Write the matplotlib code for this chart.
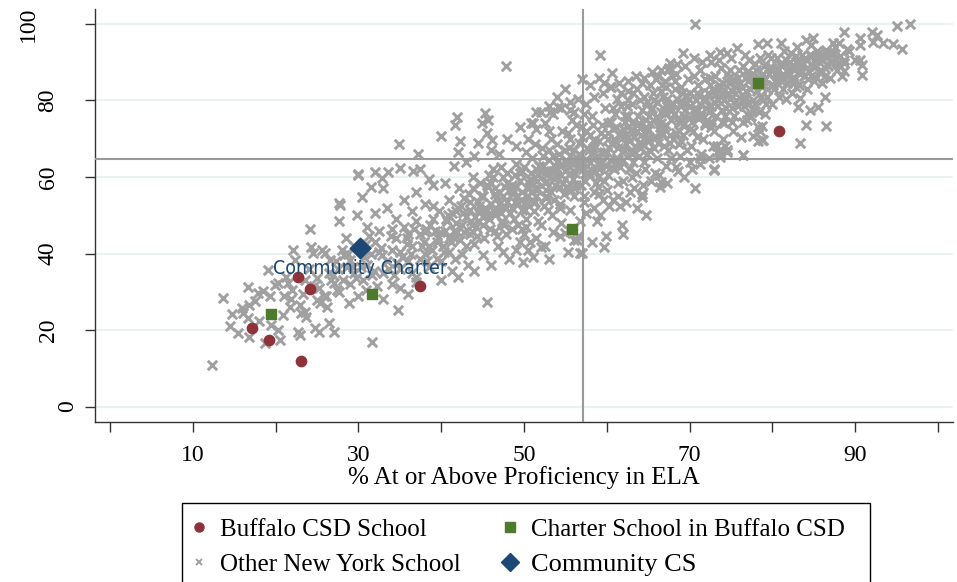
import matplotlib
matplotlib.use('Agg')
import matplotlib.pyplot as plt
from matplotlib.lines import Line2D
from matplotlib.patches import Rectangle
from matplotlib.transforms import ScaledTranslation

plt.rcParams['font.family'] = 'Liberation Serif'

# Buffalo district schools, charters in Buffalo, and the highlighted school
buffalo_ela = [17.2, 19.2, 23.1, 22.7, 24.2, 37.4, 80.8]
buffalo_math = [20.5, 17.4, 11.9, 33.8, 30.8, 31.4, 72.1]
charter_ela = [19.5, 31.6, 55.8, 78.3]
charter_math = [24.2, 29.5, 46.4, 84.5]
community_ela = [30.2]
community_math = [41.5]
community_label = 'Community Charter'

# statewide averages (reference lines)
state_ela_avg = 57.1
state_math_avg = 64.7

# other New York schools (approximate)
other_ela = [
    12.3, 13.7, 14.7, 15.9, 16.1, 16.8, 16.7, 15.5, 16.8, 16.7,
    17.9, 18.5, 19.3, 18.7, 19.1, 19.9, 20.3, 19.5, 20.3, 20.5,
    20.9, 21.7, 21.5, 21.3, 22.1, 22.4, 22.9, 23.1, 22.9, 22.7,
    23.6, 23.7, 24.3, 24.5, 24.2, 24.8, 25.2, 25.0, 25.4, 25.8,
    26.2, 26.4, 25.6, 26.0, 26.6, 27.0, 27.6, 27.8, 27.0, 27.4,
    28.2, 28.6, 29.0, 29.8, 30.4, 30.0, 31.6, 32.0, 32.8, 33.6,
    34.8, 45.5, 14.5, 17.5, 18.0, 21.0, 22.0, 23.5, 24.0, 25.0,
    26.5, 27.5, 28.0, 28.5, 29.0, 29.5, 30.0, 30.5, 31.0, 31.5,
    32.0, 32.5, 33.0, 33.5, 34.0, 34.5, 35.0, 35.5, 36.0, 36.5,
    33.0, 34.0, 35.0, 36.0, 37.0, 37.5, 38.0, 38.5, 39.0, 39.5,
    29.5, 31.0, 32.0, 33.5, 34.5, 35.5, 36.5, 37.0, 38.0, 39.0,
    40.0, 40.2, 40.5, 40.8, 41.0, 41.3, 41.5, 41.8, 42.0, 42.2,
    42.5, 42.8, 43.0, 43.2, 43.5, 43.8, 44.0, 44.2, 44.5, 44.8,
    45.0, 45.2, 45.5, 45.8, 46.0, 46.2, 46.5, 46.8, 47.0, 47.2,
    47.5, 47.8, 48.0, 48.2, 48.5, 48.8, 49.0, 49.2, 49.5, 49.8,
    40.5, 41.5, 42.0, 43.0, 44.0, 44.5, 46.0, 47.0, 48.0, 49.0,
    40.0, 42.0, 44.0, 46.0, 47.5, 49.0, 43.5, 45.5, 47.8, 49.5,
    41.0, 43.0, 45.0, 46.5, 48.5, 41.8, 43.8, 45.8, 47.2, 49.8,
    34.9, 37.2, 40.0, 41.9, 41.7, 45.3, 44.9, 45.7, 42.3, 45.5,
    46.1, 29.9, 27.6, 47.8, 36.6, 37.5, 38.5, 33.0, 31.5, 35.0,
    50.0, 50.2, 50.4, 50.6, 50.8, 51.0, 51.2, 51.4, 51.6, 51.8,
    52.0, 52.2, 52.4, 52.6, 52.8, 53.0, 53.2, 53.4, 53.6, 53.8,
    54.0, 54.2, 54.4, 54.6, 54.8, 55.0, 55.2, 55.4, 55.6, 55.8,
    56.0, 56.2, 56.4, 56.6, 56.8, 57.0, 57.2, 57.4, 57.6, 57.8,
    58.0, 58.2, 58.4, 58.6, 58.8, 59.0, 59.2, 59.4, 59.6, 59.8,
    50.5, 51.5, 52.5, 53.5, 54.5, 55.5, 56.5, 57.5, 58.5, 59.5,
    50.5, 51.5, 52.5, 53.5, 54.5, 55.5, 56.5, 57.5, 58.5, 59.5,
    50.3, 51.3, 52.3, 53.3, 54.3, 55.3, 56.3, 57.3, 58.3, 59.3,
    50.8, 52.0, 53.0, 49.5, 54.0, 55.0, 56.0, 58.0, 59.0, 57.0,
    51.5, 53.1, 54.1, 55.6, 51.1, 55.0, 56.0, 56.4, 55.3, 56.8,
    58.2, 59.6, 59.9, 61.8, 62.0, 58.8, 60.7, 61.6, 63.6, 64.2,
    64.7, 66.4, 66.6, 70.7, 72.9, 73.7, 74.5, 76.5, 51.1, 49.9,
    52.1, 50.7, 57.0, 53.0, 56.0, 54.0, 53.0, 55.5, 57.5, 59.5,
    60.0, 60.2, 60.4, 60.6, 60.8, 61.0, 61.2, 61.4, 61.6, 61.8,
    62.0, 62.2, 62.4, 62.6, 62.8, 63.0, 63.2, 63.4, 63.6, 63.8,
    64.0, 64.2, 64.4, 64.6, 64.8, 65.0, 65.2, 65.4, 65.6, 65.8,
    66.0, 66.2, 66.4, 66.6, 66.8, 67.0, 67.2, 67.4, 67.6, 67.8,
    68.0, 68.2, 68.4, 68.6, 68.8, 69.0, 69.2, 69.4, 69.6, 69.8,
    60.5, 61.5, 62.5, 63.5, 64.5, 65.5, 66.5, 67.5, 68.5, 69.5,
    60.3, 61.3, 62.3, 63.3, 64.3, 65.3, 66.3, 67.3, 68.3, 69.3,
    60.1, 61.1, 62.1, 63.1, 64.1, 65.1, 66.1, 67.1, 68.1, 69.1,
    60.7, 61.7, 62.7, 63.7, 64.7, 65.7, 66.7, 67.7, 68.7, 69.7,
    60.9, 61.9, 62.9, 63.9, 64.9, 65.9, 66.9, 67.9, 68.9, 69.9,
    70.0, 70.2, 70.4, 70.6, 70.8, 71.0, 71.2, 71.4, 71.6, 71.8,
    72.0, 72.2, 72.4, 72.6, 72.8, 73.0, 73.2, 73.4, 73.6, 73.8,
    74.0, 74.2, 74.4, 74.6, 74.8, 75.0, 75.2, 75.4, 75.6, 75.8,
    76.0, 76.2, 76.4, 76.6, 76.8, 77.0, 77.2, 77.4, 77.6, 77.8,
    78.0, 78.2, 78.4, 78.6, 78.8, 79.0, 79.2, 79.4, 79.6, 79.8,
    70.5, 71.5, 72.5, 73.5, 74.5, 70.3, 71.3, 72.3, 73.3, 74.3,
    70.1, 71.1, 72.1, 73.1, 74.1, 75.1, 76.1, 77.1, 78.1, 79.1,
    70.9, 71.9, 72.9, 73.9, 74.9, 75.9, 76.9, 77.9, 78.9, 79.9,
    80.0, 80.2, 80.4, 80.6, 80.8, 81.0, 81.2, 81.4, 81.6, 81.8,
    82.0, 82.2, 82.4, 82.6, 82.8, 83.0, 83.2, 83.4, 83.6, 83.8,
    84.0, 84.2, 84.4, 84.6, 84.8, 85.0, 85.2, 85.4, 85.6, 85.8,
    86.0, 86.3, 86.6, 86.9, 87.2, 87.5, 87.8, 88.1, 88.4, 89.0,
    78.7, 77.7, 78.3, 78.9, 83.3, 84.1, 86.5, 83.1, 84.5, 85.5,
    86.4, 83.3, 76.9, 77.3, 73.3, 73.7, 74.5, 73.7, 76.5, 72.9,
    71.3, 90.8, 90.8, 95.7, 94.6, 93.4, 92.2, 95.0, 96.6, 92.0,
    92.6, 88.7, 90.6, 90.6, 90.0, 90.6, 89.2, 88.6, 88.2, 88.7,
    88.0, 87.3, 84.1, 84.9, 86.5, 78.3, 79.3, 75.7, 76.7, 73.7,
    69.2, 67.6, 67.4, 70.7, 59.2, 60.6, 59.6, 60.4, 78.5, 78.7,
    80.5, 81.3, 82.1, 82.9, 83.7, 84.5, 85.3, 86.1, 79.5, 81.0,
    45.0, 46.0, 47.0, 48.0, 49.0, 50.0, 51.0, 52.0, 53.0, 54.0,
    55.0, 56.0, 57.0, 58.0, 59.0, 60.0, 61.0, 62.0, 63.0, 64.0,
    65.0, 66.0, 67.0, 68.0, 69.0, 70.0, 71.0, 72.0, 73.0, 74.0,
    44.5, 46.5, 48.5, 50.5, 52.5, 54.5, 56.5, 58.5, 60.5, 62.5,
    64.5, 66.5, 68.5, 70.5, 72.5, 74.5, 76.5, 78.5, 75.5, 77.5,
    42.5, 43.5, 44.5, 46.5, 47.5, 49.5, 51.5, 53.5, 55.5, 57.5,
    36.0, 37.0, 38.0, 39.0, 39.5, 38.5, 37.5, 36.5, 35.0, 34.0,
    40.7, 41.9, 43.3, 44.1, 45.3, 46.7, 47.9, 48.6, 49.3, 50.1,
    50.9, 51.7, 52.7, 53.9, 54.7, 55.1, 55.9, 56.7, 57.1, 57.9,
    58.1, 58.7, 59.3, 59.9, 60.3, 60.9, 61.3, 61.9, 62.3, 62.9,
    63.3, 63.9, 64.3, 64.9, 65.3, 65.9, 66.3, 66.9, 67.3, 67.9,
    68.3, 68.9, 69.3, 69.9, 70.3, 70.9, 71.3, 71.9, 72.3, 72.9,
    73.3, 73.9, 74.3, 74.9, 75.3, 75.9, 76.3, 76.9, 77.3, 77.9,
    78.3, 78.9, 79.3, 79.9, 80.3, 80.9, 81.3, 81.9, 82.3, 82.9,
    83.3, 83.9, 84.3, 84.9, 85.3, 85.9, 86.3, 86.9, 87.3, 87.9,
    30.7, 31.9, 32.7, 33.9, 34.7, 35.9, 36.7, 37.9, 38.7, 39.9,
    45.7, 47.3, 48.7, 49.7, 51.3, 52.9, 54.3, 55.7, 56.9, 58.9,
    59.1, 60.5, 61.7, 62.5, 63.5, 64.5, 65.7, 66.7, 67.7, 68.7,
    60.2, 61.2, 62.2, 63.2, 64.2, 65.2, 66.2, 67.2, 68.2, 69.2,
    25.3, 26.1, 26.9, 27.7, 28.3, 28.9, 29.7, 30.3, 30.9, 31.7,
    32.3, 32.9, 33.7, 34.3, 35.3, 35.9, 36.3, 36.9, 37.7, 38.3,
    38.9, 39.3, 39.7, 40.3, 40.9, 41.3, 41.7, 42.3, 42.7, 43.7,
    44.3, 44.7, 45.3, 45.9, 46.3, 46.9, 47.3, 47.7, 48.3, 48.9,
    49.3, 49.7, 50.3, 50.7, 51.1, 51.7, 52.3, 52.7, 53.3, 53.7,
    54.3, 54.9, 55.3, 55.9, 56.3, 56.9, 57.3, 57.9, 58.3, 58.9,
    61.1, 62.7, 63.1, 64.7, 65.1, 66.7, 67.1, 68.7, 69.1, 70.7,
    71.1, 72.7, 73.1, 74.7, 75.1, 76.7, 77.1, 78.7, 79.1, 80.7,
    81.1, 82.7, 83.1, 84.7, 85.1, 86.7, 87.1, 88.7, 80.1, 82.5,
    21.9, 23.3, 24.7, 26.7, 27.3, 28.7, 29.3, 30.9, 31.3, 32.5,
    38.2, 39.6, 40.6, 41.6, 42.6, 43.6, 44.6, 45.6, 46.6, 47.6,
    48.6, 49.6, 50.6, 51.6, 52.6, 53.6, 54.6, 55.6, 56.6, 57.6,
    58.6, 59.6, 60.6, 61.6, 62.6, 63.6, 64.6, 65.6, 66.6, 67.6,
    68.6, 69.6, 70.6, 71.6, 72.6, 73.6, 74.6, 75.6, 76.6, 77.6,
    78.6, 79.6, 80.6, 81.6, 82.6, 83.6, 84.6, 85.6, 86.6, 87.6,
    41.2, 42.4, 43.9, 45.1, 46.4, 47.6, 48.9, 50.1, 51.4, 52.6,
    53.9, 55.1, 56.4, 57.6, 58.9, 60.1, 61.4, 62.6, 63.9, 65.1,
    66.4, 67.6, 68.9, 70.1, 71.4, 72.6, 73.9, 75.1, 76.4, 77.6,
]
other_math = [
    10.9, 28.3, 24.1, 25.7, 24.4, 26.6, 23.1, 19.2, 18.3, 31.2,
    29.6, 30.1, 28.8, 16.6, 35.7, 31.8, 32.2, 21.4, 20.0, 17.4,
    24.0, 26.1, 32.3, 34.0, 41.0, 38.4, 26.6, 24.4, 18.7, 19.6,
    24.8, 23.5, 41.8, 40.1, 46.4, 20.5, 19.6, 27.9, 27.0, 28.8,
    26.1, 21.8, 41.0, 40.1, 38.4, 19.6, 48.4, 52.7, 32.3, 30.5,
    33.1, 36.6, 38.4, 50.1, 54.9, 60.6, 17.0, 61.4, 59.7, 61.4,
    25.3, 27.4, 21.0, 27.5, 22.5, 29.0, 30.5, 33.0, 36.0, 33.5,
    35.0, 36.0, 41.0, 44.0, 32.0, 35.0, 29.0, 33.0, 37.0, 40.0,
    43.0, 46.0, 35.0, 38.0, 41.0, 44.0, 31.0, 47.0, 38.0, 42.0,
    28.0, 32.0, 36.0, 29.5, 34.0, 45.0, 40.0, 36.5, 49.0, 43.0,
    42.0, 47.0, 50.5, 52.0, 49.0, 54.0, 51.0, 56.0, 53.0, 58.0,
    38.0, 42.0, 46.0, 50.0, 54.0, 35.5, 44.0, 48.0, 52.0, 57.0,
    40.0, 45.5, 49.5, 37.0, 53.5, 60.0, 42.5, 47.0, 51.0, 55.0,
    39.5, 44.0, 58.0, 49.0, 53.0, 62.0, 46.0, 42.0, 56.0, 50.5,
    60.0, 45.0, 53.5, 38.5, 58.0, 49.0, 63.5, 55.0, 43.0, 51.5,
    58.5, 63.0, 66.5, 64.0, 65.5, 69.0, 67.0, 66.0, 70.0, 68.0,
    33.0, 34.0, 35.5, 37.0, 40.5, 41.0, 45.0, 51.5, 52.0, 59.0,
    40.5, 42.0, 47.5, 55.5, 46.5, 51.0, 57.0, 60.5, 62.5, 61.5,
    68.7, 66.0, 70.8, 75.6, 73.6, 76.8, 74.2, 74.9, 69.3, 71.5,
    69.7, 60.7, 53.2, 89.1, 61.7, 62.0, 59.5, 57.0, 57.5, 62.4,
    45.0, 49.0, 53.0, 57.0, 61.0, 65.0, 51.0, 55.0, 59.0, 63.0,
    47.5, 67.5, 52.5, 56.5, 60.5, 64.5, 70.0, 50.0, 54.0, 58.0,
    62.0, 66.0, 44.5, 72.0, 55.5, 59.5, 63.5, 67.5, 51.5, 75.0,
    57.0, 61.0, 65.0, 69.0, 48.5, 73.0, 53.5, 59.0, 63.0, 67.0,
    71.0, 76.0, 56.0, 61.5, 65.5, 69.5, 50.0, 73.5, 59.0, 78.0,
    70.0, 72.5, 74.0, 76.5, 78.0, 79.5, 80.5, 79.0, 81.0, 82.0,
    41.0, 44.0, 42.0, 45.5, 48.0, 46.0, 44.5, 50.5, 52.0, 54.0,
    66.5, 68.5, 63.0, 61.5, 57.5, 71.5, 73.5, 76.5, 67.5, 63.5,
    74.0, 77.0, 78.5, 73.0, 81.0, 83.0, 77.0, 84.0, 86.0, 85.5,
    77.1, 77.1, 78.4, 77.5, 74.1, 45.3, 43.6, 43.6, 40.5, 40.1,
    43.1, 41.8, 44.6, 47.5, 45.1, 48.4, 53.9, 52.3, 51.9, 54.9,
    50.1, 57.5, 58.8, 57.1, 62.0, 67.1, 66.6, 65.8, 39.2, 37.9,
    41.8, 43.1, 40.2, 38.5, 55.0, 68.5, 72.0, 70.0, 61.0, 66.0,
    56.5, 60.5, 64.5, 68.5, 72.5, 76.5, 80.5, 58.5, 62.5, 66.5,
    70.5, 74.5, 78.5, 82.5, 56.0, 60.0, 64.0, 68.0, 72.0, 76.0,
    80.0, 84.5, 58.0, 62.0, 66.0, 70.0, 74.0, 78.0, 82.0, 61.0,
    65.0, 69.0, 73.0, 77.0, 81.0, 85.0, 63.0, 67.0, 71.0, 75.0,
    79.0, 83.0, 87.0, 61.5, 65.5, 69.5, 73.5, 77.5, 81.5, 85.5,
    83.5, 84.5, 85.0, 86.5, 86.0, 87.5, 88.0, 88.5, 89.5, 89.0,
    52.5, 55.0, 53.5, 57.0, 55.5, 59.0, 60.5, 58.5, 62.5, 60.0,
    70.0, 73.0, 67.0, 79.0, 71.0, 76.0, 79.5, 73.5, 76.5, 79.5,
    78.0, 82.0, 62.0, 83.0, 75.0, 67.5, 84.0, 79.0, 72.0, 67.0,
    62.0, 59.0, 72.5, 65.5, 79.5, 85.5, 68.0, 86.5, 83.5, 75.5,
    64.0, 68.0, 72.0, 76.0, 80.0, 84.0, 88.0, 66.0, 70.0, 74.0,
    78.0, 82.0, 86.0, 90.0, 68.0, 72.0, 76.0, 80.0, 84.0, 88.5,
    70.0, 74.0, 78.0, 82.0, 86.0, 91.0, 72.0, 76.0, 80.0, 84.0,
    88.0, 70.5, 74.5, 78.5, 82.5, 86.5, 90.5, 76.0, 80.0, 84.0,
    88.0, 73.0, 77.0, 81.0, 85.0, 89.0, 79.0, 83.0, 87.0, 91.0,
    91.0, 90.0, 92.0, 90.5, 92.5, 62.0, 63.5, 65.0, 66.5, 68.0,
    78.5, 81.5, 75.0, 86.5, 80.0, 78.0, 84.5, 79.5, 82.5, 85.5,
    70.5, 85.5, 79.5, 74.5, 88.0, 86.0, 76.5, 89.5, 80.0, 84.0,
    79.0, 83.0, 87.0, 91.0, 81.0, 85.0, 89.0, 93.0, 80.5, 84.5,
    88.5, 92.5, 82.0, 86.0, 90.0, 94.0, 84.0, 88.0, 92.0, 86.5,
    90.5, 83.0, 87.5, 94.5, 91.5, 85.0, 89.0, 93.0, 87.5, 91.0,
    84.5, 88.5, 92.5, 86.0, 90.0, 94.0, 88.0, 91.5, 86.5, 93.5,
    73.2, 70.6, 69.3, 69.7, 68.8, 73.6, 73.4, 78.4, 77.5, 78.4,
    80.9, 80.6, 74.9, 75.8, 68.0, 66.2, 67.1, 65.3, 65.8, 61.9,
    65.0, 86.7, 89.3, 93.5, 94.7, 95.1, 95.4, 99.5, 100.0, 98.0,
    97.2, 98.0, 96.3, 94.5, 90.6, 90.6, 92.8, 87.6, 88.9, 89.8,
    95.0, 95.0, 95.8, 96.3, 93.2, 94.7, 95.1, 93.6, 91.9, 92.7,
    92.4, 89.8, 88.0, 100.0, 91.9, 87.1, 84.5, 83.6, 71.9, 69.7,
    85.5, 87.0, 90.0, 83.5, 89.5, 92.0, 86.0, 90.5, 92.0, 95.0,
    55.0, 58.5, 53.0, 61.0, 57.5, 62.5, 58.0, 61.5, 67.0, 64.0,
    61.5, 67.0, 70.5, 64.0, 62.0, 66.5, 69.5, 64.5, 74.0, 67.5,
    72.5, 75.5, 77.0, 70.0, 74.5, 82.0, 77.5, 80.5, 83.0, 84.5,
    48.5, 50.0, 52.0, 55.0, 58.5, 60.5, 62.5, 69.5, 74.5, 76.0,
    81.0, 82.5, 80.5, 86.5, 84.0, 87.0, 89.0, 91.0, 82.0, 86.0,
    47.5, 51.5, 53.5, 57.0, 55.0, 61.0, 62.0, 65.5, 65.5, 72.0,
    45.0, 48.5, 45.5, 52.5, 38.5, 42.0, 38.5, 35.0, 40.5, 46.5,
    48.5, 45.5, 55.5, 49.5, 52.0, 44.5, 58.5, 55.5, 47.5, 53.5,
    56.0, 60.5, 55.0, 62.5, 58.5, 64.5, 59.5, 66.0, 62.0, 60.5,
    66.0, 58.5, 71.5, 63.0, 67.5, 70.0, 64.5, 72.5, 68.5, 66.5,
    70.5, 74.0, 68.5, 72.0, 77.5, 70.5, 75.0, 73.0, 80.5, 77.5,
    71.5, 78.5, 76.0, 80.5, 74.5, 82.0, 79.0, 73.5, 77.0, 82.5,
    78.5, 82.0, 76.0, 80.5, 85.5, 78.5, 81.5, 87.5, 83.0, 79.0,
    84.5, 87.0, 81.0, 88.5, 85.0, 89.5, 83.0, 87.5, 85.5, 91.5,
    87.0, 91.0, 85.5, 89.0, 91.5, 88.0, 86.5, 90.0, 92.5, 89.5,
    39.0, 35.5, 41.5, 44.5, 37.5, 42.5, 46.5, 43.0, 47.5, 45.5,
    57.5, 48.5, 56.5, 46.5, 53.5, 51.5, 53.0, 56.5, 58.0, 57.5,
    55.5, 62.5, 78.5, 80.0, 61.0, 64.0, 80.0, 71.5, 65.0, 68.5,
    74.0, 65.0, 76.0, 82.0, 77.5, 84.0, 86.5, 83.5, 85.0, 71.0,
    31.0, 29.0, 34.5, 30.0, 39.5, 27.0, 33.5, 36.5, 30.5, 34.5,
    31.5, 39.5, 36.0, 34.5, 39.0, 44.0, 40.0, 32.5, 42.0, 38.0,
    41.0, 46.0, 51.0, 40.5, 44.0, 50.5, 38.5, 43.5, 54.5, 47.5,
    44.5, 58.5, 50.0, 46.5, 60.0, 51.5, 48.0, 57.5, 50.5, 60.5,
    53.0, 56.0, 47.0, 59.5, 53.5, 48.5, 65.5, 59.0, 56.0, 61.5,
    52.0, 67.0, 57.0, 63.5, 58.0, 64.0, 55.0, 61.0, 73.5, 60.0,
    63.5, 69.5, 66.0, 73.0, 67.0, 71.0, 79.0, 74.5, 82.0, 78.0,
    75.5, 74.0, 81.5, 84.5, 82.5, 81.0, 85.0, 83.5, 76.5, 88.0,
    86.5, 88.5, 90.0, 86.5, 90.5, 89.0, 92.0, 90.5, 84.0, 84.5,
    28.0, 29.5, 31.5, 33.0, 38.0, 40.0, 36.5, 42.5, 44.5, 40.5,
    46.5, 44.0, 49.0, 46.0, 50.5, 48.5, 52.5, 50.0, 54.5, 52.5,
    56.5, 54.0, 58.5, 56.5, 61.5, 59.5, 63.5, 61.0, 66.0, 64.5,
    68.0, 66.5, 69.0, 71.0, 70.5, 73.5, 71.5, 75.0, 74.0, 77.5,
    75.5, 79.0, 77.0, 80.0, 78.5, 83.0, 81.5, 83.5, 80.0, 87.0,
    85.5, 88.5, 86.5, 90.5, 88.0, 90.0, 89.5, 92.5, 89.5, 91.0,
    43.0, 52.5, 45.5, 49.5, 51.0, 47.5, 53.5, 51.5, 57.5, 54.5,
    60.5, 57.5, 64.0, 67.5, 63.5, 71.5, 67.5, 73.0, 69.0, 69.5,
    72.0, 69.0, 75.0, 72.5, 76.0, 73.0, 77.5, 74.5, 79.5, 77.5,
]

x_ticks = [0, 10, 20, 30, 40, 50, 60, 70, 80, 90, 100]
x_labels = ['', '10', '', '30', '', '50', '', '70', '', '90', '']
y_ticks = [0, 20, 40, 60, 80, 100]
y_labels = ['0', '20', '40', '60', '80', '100']

red = '#90323a'
green = '#4f7a2b'
navy = '#1b4875'
grey = '#a0a0a0'

fig = plt.figure(figsize=(9.57, 5.82), dpi=100)
ax = fig.add_axes([0.0993, 0.2744, 0.8965, 0.7101])

ax.set_xlim(-1.8, 101.8)
ax.set_ylim(-4.1, 103.9)

for yv in y_ticks:
    ax.axhline(yv, color='#e8f0f2', lw=1.3, zorder=0)

ax.scatter(other_ela, other_math, marker='x', s=46, linewidths=2.1, c=grey, zorder=2)
ax.axhline(state_math_avg, color='#9a9a9a', lw=1.5, zorder=3)
ax.axvline(state_ela_avg, color='#9a9a9a', lw=1.5, zorder=3)
ax.scatter(buffalo_ela, buffalo_math, marker='o', s=55, c=red, zorder=4)
ax.scatter(charter_ela, charter_math, marker='s', s=55, c=green, zorder=4)
ax.scatter(community_ela, community_math, marker='D', s=110, c=navy, zorder=5)
ax.annotate(community_label, (community_ela[0], community_math[0]),
            xytext=(0, -15), textcoords='offset points', ha='center', va='center',
            color=navy, fontsize=14, family=['Liberation Sans Narrow', 'DejaVu Sans'],
            fontstretch='condensed', zorder=6)

for side in ['top', 'right']:
    ax.spines[side].set_visible(False)
for side in ['left', 'bottom']:
    ax.spines[side].set_color('#333333')
    ax.spines[side].set_linewidth(1.0)

ax.set_xticks(x_ticks, labels=x_labels)
ax.set_yticks(y_ticks, labels=y_labels)
ax.tick_params(axis='both', length=7.2, width=1.0, color='#333333', labelsize=17)
ax.tick_params(axis='x', pad=9.5)
ax.tick_params(axis='y', pad=5)
for lab in ax.get_yticklabels():
    lab.set_rotation(90)
    lab.set_va('center')
    lab.set_ha('right')
    # labels sit further left the longer they are, as in the original
    n = len(lab.get_text())
    lab.set_transform(lab.get_transform() + ScaledTranslation(-(n - 1) * 0.195, 0, fig.dpi_scale_trans))

ax.set_xlabel('% At or Above Proficiency in ELA', fontsize=18, labelpad=0)

# legend box (runs past the bottom edge, as in the original)
fig.patches.append(Rectangle((182 / 957, -0.05), 688 / 957, 0.05 + 79 / 582,
                             transform=fig.transFigure, fill=False,
                             edgecolor='black', lw=1.0))

handles = [
    Line2D([], [], ls='none', marker='o', ms=6.5, color=red),
    Line2D([], [], ls='none', marker='x', ms=4, mew=1.4, color=grey),
    Line2D([], [], ls='none', marker='s', ms=6.5, color=green),
    Line2D([], [], ls='none', marker='D', ms=9, color=navy),
]
names = ['Buffalo CSD School', 'Other New York School',
         'Charter School in Buffalo CSD', 'Community CS']
leg = fig.legend(handles, names, ncol=2, loc='upper left',
                 bbox_to_anchor=(189 / 957, 64 / 582), frameon=False,
                 fontsize=18, handlelength=0.8, handletextpad=0.42,
                 columnspacing=1.6, borderpad=0, labelspacing=0.52,
                 borderaxespad=0)
leg.get_texts()[3].set_fontsize(19)

fig.savefig('out.png', dpi=100)
